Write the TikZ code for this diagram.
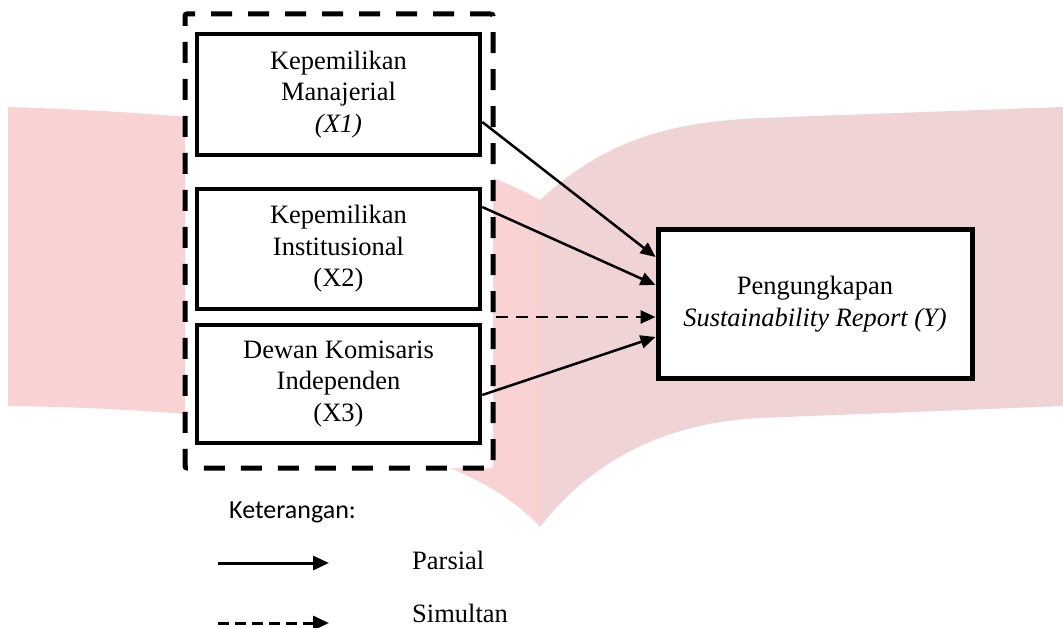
\documentclass[tikz,border=0pt]{standalone}
\usepackage{fontspec}
\setmainfont{Liberation Serif}
\newfontfamily\calibri{Carlito}
\usetikzlibrary{arrows.meta}
\definecolor{wmlight}{RGB}{249,211,212}
\definecolor{wmmauve}{RGB}{239,211,213}
\begin{document}
\begin{tikzpicture}[x=1pt,y=-1pt,
  txt/.style={font=\fontsize{26.5}{31.5}\selectfont},
  var/.style={draw, line width=4.5pt, fill=white, minimum width=283pt, minimum height=121pt, inner sep=0pt, align=center, txt},
  grpbox/.style={draw, line width=5pt, fill=white, dash pattern=on 21pt off 16pt, rounded corners=2pt, minimum width=308pt, minimum height=454pt, inner sep=0pt},
  conn/.style={line width=2.5pt, -{Triangle[length=15pt,width=13pt]}},
  dconn/.style={conn, dash pattern=on 12pt off 8pt},
  legsolid/.style={line width=3pt, -{Triangle[length=16pt,width=14pt]}},
  legdash/.style={legsolid, dash pattern=on 11pt off 6pt},
  legtxt/.style={anchor=west, inner sep=0pt, txt}]
\useasboundingbox (0,0) rectangle (1063,628);
\fill[white] (0,0) rectangle (1063,628);
% watermark
\fill[wmlight] (8,107) .. controls (300,116) and (450,150) .. (540,200)
  -- (540,527) .. controls (470,450) and (300,410) .. (8,406) -- cycle;
\fill[wmmauve] (540,200) .. controls (610,135) and (680,122) .. (760,118)
  -- (1063,107) -- (1063,406) -- (760,418) .. controls (680,422) and (600,450) .. (540,527) -- cycle;
% group box
\node[grpbox] (grp) at (339,241) {};
% variables
\node[var] (b1) at (338.5,94.5) {Kepemilikan\\Manajerial\\\textit{(X1)}};
\node[var, minimum height=120pt] (b2) at (338.5,249) {Kepemilikan\\Institusional\\(X2)};
\node[var, minimum height=118pt] (b3) at (338.5,384) {Dewan Komisaris\\Independen\\(X3)};
\node[var, minimum width=314pt, minimum height=148pt, line width=5pt] (y) at (815,304) {Pengungkapan\\\textit{Sustainability Report (Y)}};
% connectors
\draw[conn] ([yshift=-27.5pt]b1.east) -- ([yshift=47pt]y.west);
\draw[conn] ([yshift=42pt]b2.east) -- ([yshift=19pt]y.west);
\draw[dconn] ([yshift=-76pt]grp.east) -- ([yshift=-13pt]y.west);
\draw[conn] ([yshift=-11pt]b3.east) -- ([yshift=-33pt]y.west);
% legend
\node[anchor=west, inner sep=0pt, font=\calibri\fontsize{26}{30}\selectfont] (ket) at (229,512) {Keterangan:};
\coordinate (ls1) at (218,563);
\coordinate (le1) at (329,563);
\draw[legsolid] (ls1) -- (le1);
\node[legtxt] (parsial) at (412,560) {Parsial};
\coordinate (ls2) at (218,623);
\coordinate (le2) at (329,623);
\draw[legdash] (ls2) -- (le2);
\node[legtxt] (simultan) at (412,613) {Simultan};
\end{tikzpicture}
\end{document}
